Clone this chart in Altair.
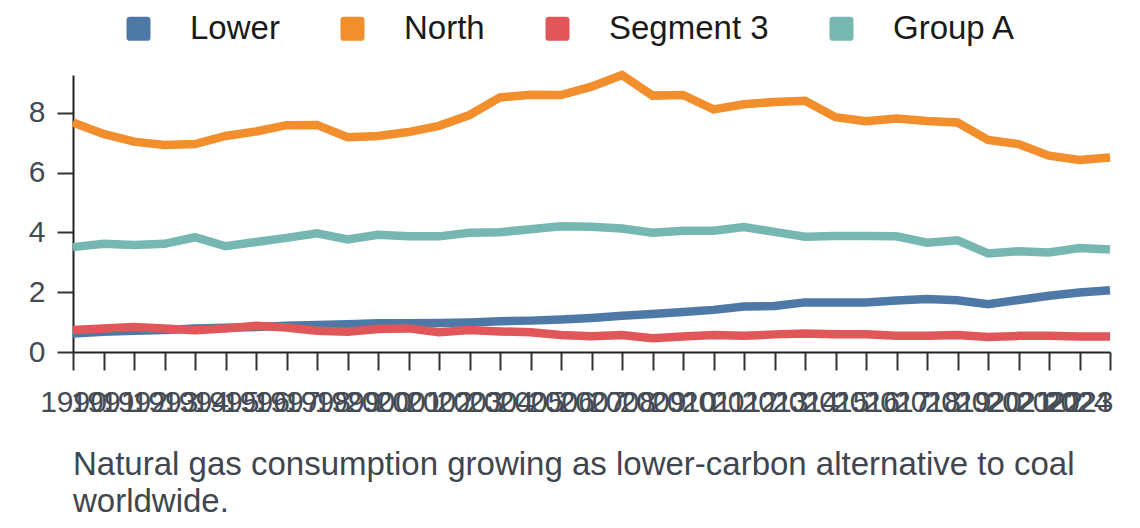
import altair as alt
import pandas as pd

years = list(range(1990, 2025))
series_names = ["Lower", "North", "Segment 3", "Group A"]
colors = ["#4e79a7", "#f28e2b", "#e15759", "#76b7b2"]

lower = [0.62, 0.68, 0.71, 0.74, 0.79, 0.81, 0.84, 0.88, 0.90, 0.93,
         0.96, 0.96, 0.97, 0.99, 1.03, 1.05, 1.09, 1.14, 1.21, 1.27,
         1.34, 1.41, 1.52, 1.54, 1.66, 1.66, 1.66, 1.72, 1.77, 1.73,
         1.60, 1.74, 1.88, 1.99, 2.07]
north = [7.68, 7.30, 7.04, 6.93, 6.96, 7.23, 7.38, 7.59, 7.60, 7.19,
         7.23, 7.36, 7.57, 7.93, 8.52, 8.61, 8.60, 8.88, 9.27, 8.58,
         8.60, 8.12, 8.29, 8.37, 8.41, 7.86, 7.72, 7.81, 7.73, 7.68,
         7.10, 6.96, 6.57, 6.43, 6.51]
segment3 = [0.74, 0.79, 0.84, 0.79, 0.73, 0.79, 0.88, 0.82, 0.71, 0.68,
            0.77, 0.79, 0.66, 0.74, 0.69, 0.66, 0.57, 0.53, 0.57, 0.46,
            0.52, 0.57, 0.54, 0.59, 0.62, 0.59, 0.59, 0.54, 0.54, 0.57,
            0.50, 0.54, 0.54, 0.52, 0.52]
group_a = [3.51, 3.62, 3.58, 3.62, 3.84, 3.54, 3.68, 3.82, 3.97, 3.77,
           3.92, 3.87, 3.87, 3.99, 4.01, 4.11, 4.21, 4.19, 4.13, 3.99,
           4.06, 4.06, 4.18, 4.02, 3.86, 3.88, 3.88, 3.87, 3.66, 3.74,
           3.30, 3.37, 3.33, 3.48, 3.43]

title_lines = ["Natural gas consumption growing as lower-carbon alternative to coal",
               "worldwide."]

rows = []
for name, vals in zip(series_names, [lower, north, segment3, group_a]):
    for y, v in zip(years, vals):
        rows.append({"year": y, "value": v, "series": name})
df = pd.DataFrame(rows)

FONT = "Liberation Sans"
rounded_square = ("M -1 -0.72 Q -1 -1 -0.72 -1 L 0.72 -1 Q 1 -1 1 -0.72 "
                  "L 1 0.72 Q 1 1 0.72 1 L -0.72 1 Q -1 1 -1 0.72 Z")

color_scale = alt.Scale(domain=series_names, range=colors)

x_enc = alt.X("year:Q",
              scale=alt.Scale(domain=[1990, 2024], nice=False, zero=False),
              axis=alt.Axis(values=years, tickCount=60, format="d", title=None, grid=False,
                            labelFlush=False, labelOverlap=False, labelSeparation=-200,
                            labelAlign=alt.expr("datum.value == 2024 ? 'right' : 'center'"),
                            labelFontSize=30, labelFont=FONT, labelColor="#454b54",
                            labelPadding=17, tickSize=18, tickWidth=2, tickColor="#333333",
                            domainColor="#222222", domainWidth=2))
y_enc = alt.Y("value:Q",
              scale=alt.Scale(nice=False, zero=True),
              axis=alt.Axis(values=[0, 2, 4, 6, 8], title=None, grid=False,
                            labelFontSize=30, labelFont=FONT, labelColor="#454b54",
                            labelPadding=12, tickSize=16, tickWidth=2, tickColor="#333333",
                            domainColor="#222222", domainWidth=2))

legend_points = alt.Chart(df).mark_point(filled=True, size=0, opacity=1).encode(
    x=x_enc,
    y=y_enc,
    color=alt.Color("series:N", scale=color_scale,
                    legend=alt.Legend(title=None, orient="none", direction="horizontal",
                                      columns=4, legendX=49, legendY=-63,
                                      symbolType=rounded_square, symbolSize=576,
                                      symbolStrokeWidth=0, symbolOpacity=1,
                                      labelFontSize=33, labelFont=FONT, labelColor="#1a1a1a",
                                      labelOffset=35, columnPadding=56)),
)

lines = alt.Chart(df).mark_line(strokeWidth=8.5).encode(
    x="year:Q",
    y="value:Q",
    color=alt.Color("series:N", scale=color_scale),
)

chart = alt.layer(legend_points, lines).properties(
    width=1037,
    height=277,
    view=alt.ViewBackground(stroke="transparent", strokeWidth=0),
    padding={"left": 65, "top": 67, "right": 22, "bottom": 168},
    autosize=alt.AutoSizeParams(type="none"),
    title=alt.TitleParams(text=title_lines, orient="bottom", anchor="start", frame="group",
                          fontSize=33, font=FONT, fontWeight="normal",
                          color="#3f4650", offset=32, lineHeight=37),
).configure_view(stroke="transparent", strokeWidth=0).configure_axisX(labelOverlap=False).configure(background="white")

chart.save("out.html", embed_options={"renderer": "svg", "actions": False})
